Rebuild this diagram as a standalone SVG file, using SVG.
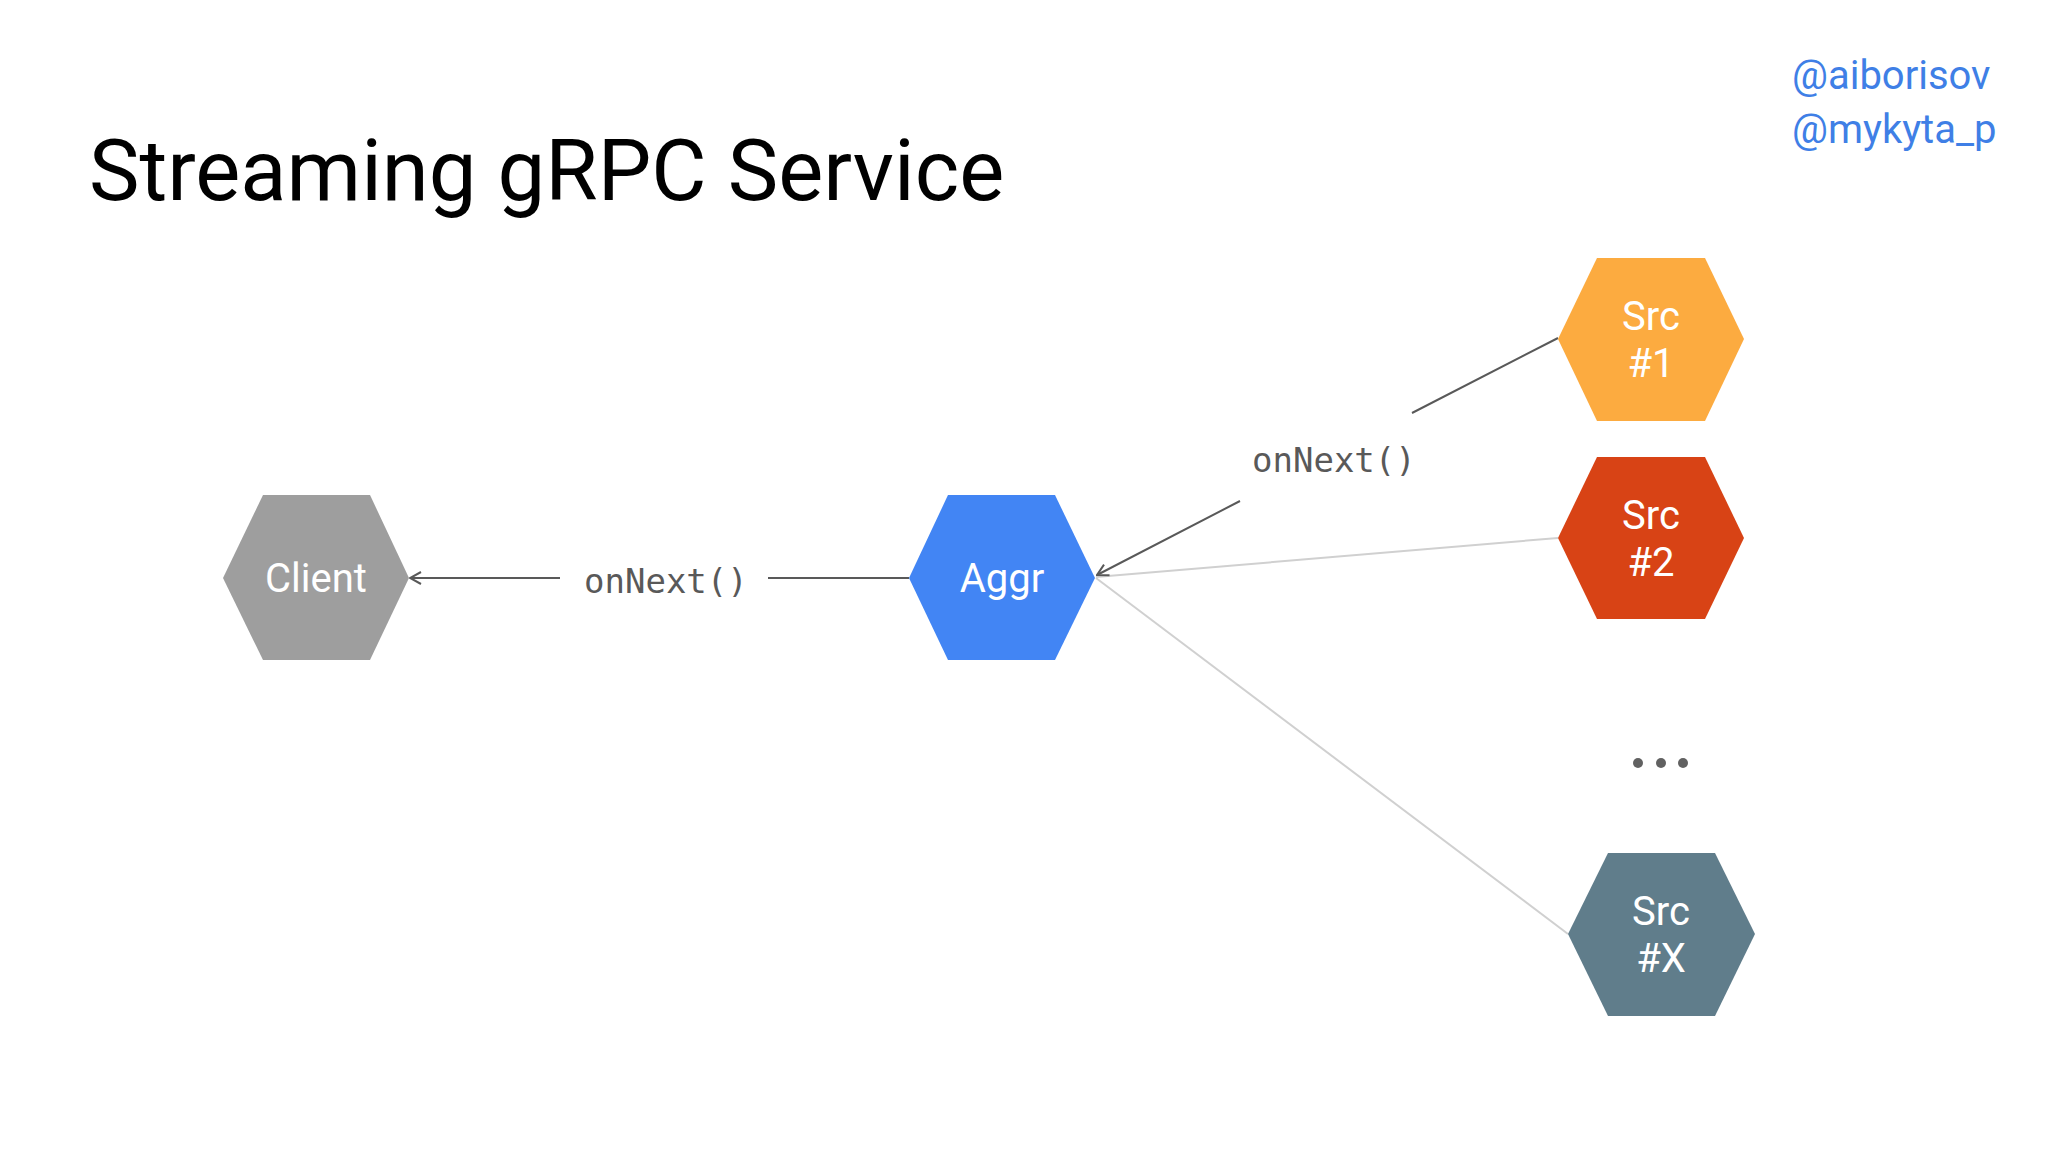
<svg xmlns="http://www.w3.org/2000/svg" width="2048" height="1152" viewBox="0 0 2048 1152">
<style>
.title{font-family:Roboto,"Liberation Sans",sans-serif;font-size:85px;fill:#000}
.handle{font-family:Roboto,"Liberation Sans",sans-serif;font-size:40px;fill:#3f7fe6}
.lbl{font-family:Roboto,"Liberation Sans",sans-serif;font-size:40px;fill:#fff;text-anchor:middle}
.code{font-family:"DejaVu Sans Mono","Liberation Mono",monospace;font-size:34px;fill:#595959}
.dark{stroke:#595959;stroke-width:2;fill:none}
.light{stroke:#d0d0d0;stroke-width:2;fill:none}
</style>
<defs>
<marker id="arr" markerUnits="userSpaceOnUse" markerWidth="20" markerHeight="20" refX="19" refY="10" orient="auto" viewBox="0 0 20 20">
<path d="M8,4 L19,10 L8,16" fill="none" stroke="#595959" stroke-width="2"/>
</marker>
</defs>
<rect width="2048" height="1152" fill="#fff"/>
<text class="title" x="89" y="200">Streaming gRPC Service</text>
<text class="handle" x="1792" y="89">@aiborisov</text>
<text class="handle" x="1792" y="143">@mykyta_p</text>
<g id="connectors">
<path class="light" d="M1558,538 L1096,577"/>
<path class="light" d="M1568,934 L1096,578"/>
<path class="dark" d="M1558,338 L1412,413 M1240,501 L1097,575" marker-end="url(#arr)"/>
<path class="dark" d="M909,578 L768,578 M560,578 L410,578" marker-end="url(#arr)"/>
<text class="code" x="584" y="593">onNext()</text>
<text class="code" x="1252" y="472">onNext()</text>
</g>
<g id="client">
<polygon points="223,578 263,495 370,495 409,578 370,660 263,660" fill="#9e9e9e"/>
<text class="lbl" x="316" y="592">Client</text>
</g>
<g id="aggr">
<polygon points="909,578 948,495 1055,495 1095,578 1055,660 948,660" fill="#4285f4"/>
<text class="lbl" x="1002" y="592">Aggr</text>
</g>
<g id="src1">
<polygon points="1558,339 1597,258 1705,258 1744,339 1705,421 1597,421" fill="#fcab40"/>
<text class="lbl" x="1651" y="330">Src</text>
<text class="lbl" x="1651" y="377">#1</text>
</g>
<g id="src2">
<polygon points="1558,538 1597,457 1705,457 1744,538 1705,619 1597,619" fill="#d84315"/>
<text class="lbl" x="1651" y="529">Src</text>
<text class="lbl" x="1651" y="576">#2</text>
</g>
<g id="dots">
<circle cx="1638" cy="763" r="5" fill="#616161"/>
<circle cx="1661" cy="763" r="5" fill="#616161"/>
<circle cx="1683" cy="763" r="5" fill="#616161"/>
</g>
<g id="srcx">
<polygon points="1568,934 1608,853 1715,853 1755,934 1715,1016 1608,1016" fill="#607d8b"/>
<text class="lbl" x="1661" y="925">Src</text>
<text class="lbl" x="1661" y="972">#X</text>
</g>
</svg>
